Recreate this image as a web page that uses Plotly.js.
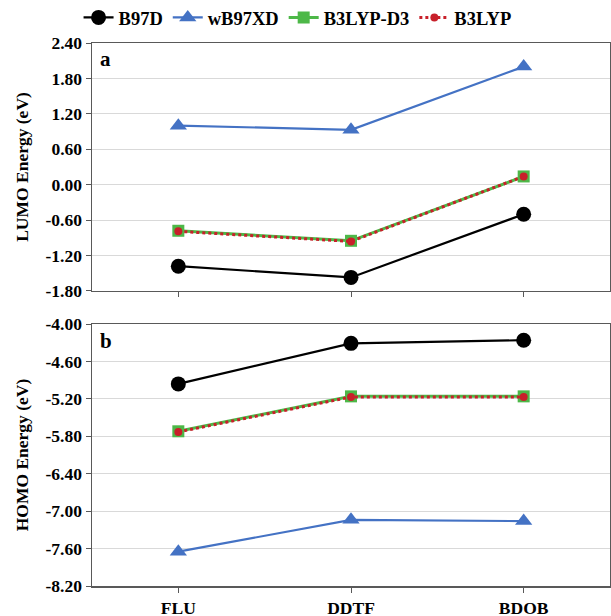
<!DOCTYPE html>
<html>
<head>
<meta charset="utf-8">
<script src="https://cdn.plot.ly/plotly-3.0.1.min.js"></script>
<style>html,body{margin:0;padding:0;background:#fff;}#chart{width:611px;height:616px;}</style>
</head>
<body>
<div id="chart"></div>
<script>
const categories = ["FLU", "DDTF", "BDOB"];
const seriesNames = ["B97D", "wB97XD", "B3LYP-D3", "B3LYP"];
// LUMO energies (eV), panel a
const lumoB97D = [-1.38, -1.57, -0.50];
const lumoWB97XD = [1.00, 0.93, 2.00];
const lumoB3LYPD3 = [-0.78, -0.95, 0.14];
const lumoB3LYP = [-0.79, -0.96, 0.14];
// HOMO energies (eV), panel b
const homoB97D = [-4.96, -4.31, -4.26];
const homoWB97XD = [-7.65, -7.14, -7.16];
const homoB3LYPD3 = [-5.72, -5.16, -5.16];
const homoB3LYP = [-5.73, -5.17, -5.17];
const lumoTicks = [-1.80, -1.20, -0.60, 0.00, 0.60, 1.20, 1.80, 2.40];
const homoTicks = [-8.20, -7.60, -7.00, -6.40, -5.80, -5.20, -4.60, -4.00];

const FONT = "Liberation Serif, Times New Roman, serif";
const styles = [
  {line: {color: "#000000", width: 2.2}, marker: {symbol: "circle", size: 15, color: "#000000"}},
  {line: {color: "#4472C4", width: 2.2}, marker: {symbol: "triangle-up", size: 15, color: "#4472C4"}},
  {line: {color: "#4DB848", width: 3}, marker: {symbol: "square", size: 12, color: "#4DB848"}},
  {line: {color: "#C8202A", width: 3, dash: "dot"}, marker: {symbol: "circle", size: 8, color: "#C8202A"}}
];
const lumo = [lumoB97D, lumoWB97XD, lumoB3LYPD3, lumoB3LYP];
const homo = [homoB97D, homoWB97XD, homoB3LYPD3, homoB3LYP];

const traces = [];
lumo.forEach((ys, i) => {
  traces.push({x: categories, y: ys, name: seriesNames[i], type: "scatter", mode: "lines+markers",
    line: styles[i].line, marker: styles[i].marker, xaxis: "x", yaxis: "y", showlegend: true, legendgroup: seriesNames[i]});
});
homo.forEach((ys, i) => {
  traces.push({x: categories, y: ys, name: seriesNames[i], type: "scatter", mode: "lines+markers",
    line: styles[i].line, marker: styles[i].marker, xaxis: "x2", yaxis: "y2", showlegend: false, legendgroup: seriesNames[i]});
});

const axisCommon = {
  showline: true, linecolor: "#595959", linewidth: 1.5, mirror: true,
  ticks: "outside", ticklen: 5, tickcolor: "#595959",
  tickfont: {family: FONT, size: 17.5, color: "#000", weight: "bold"},
  zeroline: false
};
const titleFont = {family: FONT, size: 17.5, color: "#000", weight: "bold"};

const layout = {
  width: 611, height: 616,
  margin: {l: 92, r: 1, t: 43, b: 30},
  paper_bgcolor: "#fff", plot_bgcolor: "#fff",
  font: {family: FONT, color: "#000"},
  showlegend: true,
  legend: {orientation: "h", xref: "container", yref: "container", x: 0.487, xanchor: "center", y: 0.971, yanchor: "middle",
    font: {family: FONT, size: 18.5, color: "#000", weight: "bold"}, traceorder: "normal", itemwidth: 30},
  xaxis: Object.assign({}, axisCommon, {domain: [0, 1], range: [-0.5, 2.5], type: "category", showticklabels: false, anchor: "y", showgrid: false}),
  xaxis2: Object.assign({}, axisCommon, {domain: [0, 1], range: [-0.5, 2.5], type: "category", anchor: "y2", showgrid: false}),
  yaxis: Object.assign({}, axisCommon, {domain: [0.5433, 1], range: [-1.8, 2.4], tickvals: lumoTicks,
    ticktext: lumoTicks.map(v => v.toFixed(2)), showgrid: true, gridcolor: "#D9D9D9", gridwidth: 1, anchor: "x",
    title: {text: "LUMO Energy (eV)", font: titleFont, standoff: 12}}),
  yaxis2: Object.assign({}, axisCommon, {domain: [0, 0.4825], range: [-8.2, -4.0], tickvals: homoTicks,
    ticktext: homoTicks.map(v => v.toFixed(2)), showgrid: true, gridcolor: "#D9D9D9", gridwidth: 1, anchor: "x2",
    title: {text: "HOMO Energy (eV)", font: titleFont, standoff: 12}}),
  annotations: [
    {text: "a", xref: "x domain", yref: "y domain", x: 0.012, y: 0.99, xanchor: "left", yanchor: "top", showarrow: false,
      font: {family: FONT, size: 21, color: "#000", weight: "bold"}},
    {text: "b", xref: "x2 domain", yref: "y2 domain", x: 0.012, y: 0.99, xanchor: "left", yanchor: "top", showarrow: false,
      font: {family: FONT, size: 21, color: "#000", weight: "bold"}}
  ]
};

Plotly.newPlot("chart", traces, layout, {displayModeBar: false, staticPlot: true});
</script>
</body>
</html>
